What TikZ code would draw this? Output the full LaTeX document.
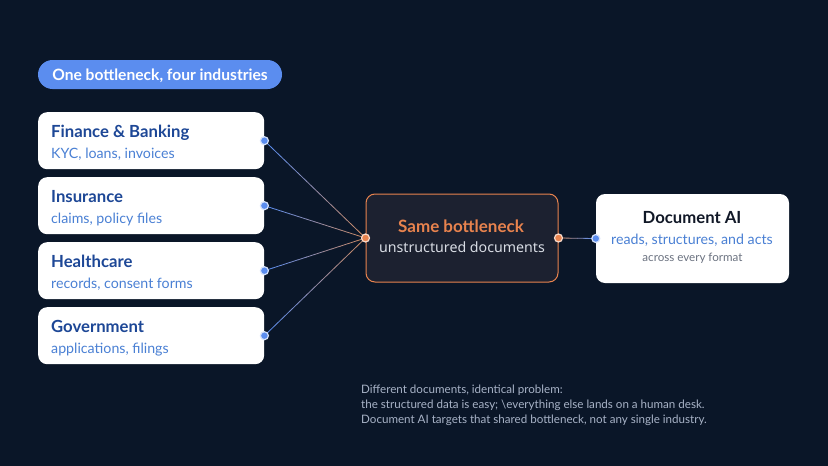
\documentclass[tikz,border=0pt]{standalone}
\usepackage{fontspec}
\setmainfont{Lato}
\newfontfamily\notosans{Noto Sans}
\usetikzlibrary{calc}
\definecolor{bgnavy}{HTML}{0A1628}
\definecolor{pillblue}{HTML}{5B8DEF}
\definecolor{cardnavy}{HTML}{1D4796}
\definecolor{cardblue}{HTML}{4A80D4}
\definecolor{midfill}{HTML}{1C2130}
\definecolor{midorange}{HTML}{E8834E}
\definecolor{midgray}{HTML}{D8DCE4}
\definecolor{docink}{HTML}{111827}
\definecolor{docgray}{HTML}{6B7280}
\definecolor{notegray}{HTML}{A8B3C7}
\definecolor{linkblue}{HTML}{5B8DEF}
\definecolor{linkorange}{HTML}{C98A66}
\begin{document}
\begin{tikzpicture}[x=1pt, y=-1pt,
    card/.style={fill=white, rounded corners=9pt, minimum width=226pt,
      minimum height=57pt, anchor=north west, inner sep=0pt},
    cardtitle/.style={anchor=base west, inner sep=0pt, text=cardnavy,
      font=\fontsize{16.7}{20}\selectfont\bfseries},
    cardsub/.style={anchor=base west, inner sep=0pt, text=cardblue,
      font=\fontsize{14.2}{17}\selectfont},
    link/.style={line width=0.8pt, line cap=round},
    bluedot/.style={circle, fill=pillblue, draw=white!75!pillblue,
      line width=1.2pt, minimum size=8pt, inner sep=0pt},
    orangedot/.style={circle, fill=midorange, draw=white!70!midorange,
      line width=1.2pt, minimum size=8pt, inner sep=0pt}]

  % Background
  \fill [bgnavy] (0, 0) rectangle (828, 466);
  \useasboundingbox (0, 0) rectangle (828, 466);

  % Heading pill
  \node [fill=pillblue, rounded corners=14.5pt, minimum width=244pt,
    minimum height=29pt, inner sep=0pt] (pill) at (160, 74.5) {};
  \node [anchor=base, inner sep=0pt, text=white,
    font=\fontsize{15.6}{18}\selectfont\bfseries] (pilltext) at (160, 80)
    {One bottleneck, four industries};

  % Industry cards
  \foreach \i/\ttl/\sub in {
    1/Finance \& Banking/{KYC, loans, invoices},
    2/Insurance/{claims, policy files},
    3/Healthcare/{records, consent forms},
    4/Government/{applications, filings}
  } {
    \pgfmathsetmacro\cardy{112 + 65 * (\i - 1)}
    \node [card] (card\i) at (38, \cardy) {};
    \node [cardtitle] (title\i) at (51, \cardy + 25.5) {\ttl};
    \node [cardsub] (sub\i) at (51, \cardy + 46.5) {\sub};
  }

  % Shared bottleneck
  \node [fill=midfill, draw=midorange, line width=1pt, rounded corners=9pt,
    minimum width=192pt, minimum height=88pt, inner sep=0pt] (same) at (462, 238) {};
  \node [anchor=base, inner sep=0pt, text=midorange,
    font=\fontsize{17}{20}\selectfont\bfseries] (sametitle) at (461, 232)
    {Same bottleneck};
  \node [anchor=base, inner sep=0pt, text=midgray,
    font=\notosans\fontsize{14.2}{17}\selectfont] (samesub) at (462, 252)
    {unstructured documents};

  % Document AI
  \node [fill=white, rounded corners=9pt, minimum width=193pt,
    minimum height=89pt, inner sep=0pt] (docai) at (692.5, 238.5) {};
  \node [anchor=base, inner sep=0pt, text=docink,
    font=\fontsize{16.7}{20}\selectfont\bfseries] (doctitle) at (692, 223)
    {Document AI};
  \node [anchor=base, inner sep=0pt, text=cardblue,
    font=\fontsize{14.2}{17}\selectfont] (docsub) at (692, 244)
    {reads, structures, and acts};
  \node [anchor=base, inner sep=0pt, text=docgray,
    font=\fontsize{11.6}{14}\selectfont] (docnote) at (692.5, 261)
    {across every format};

  % Connectors, blue fading into orange
  \foreach \i in {1, ..., 4} {
    \foreach \k in {0, ..., 11} {
      \pgfmathsetmacro\c{100 - \k * 100 / 11}
      \pgfmathsetmacro\pa{\k / 12}
      \pgfmathsetmacro\pb{(\k + 1) / 12}
      \draw [link, linkblue!\c!linkorange]
        ($(card\i.east)!\pa!(same.west)$) -- ($(card\i.east)!\pb!(same.west)$);
    }
  }
  \foreach \k in {0, ..., 5} {
    \pgfmathsetmacro\c{\k * 100 / 5}
    \pgfmathsetmacro\pa{\k / 6}
    \pgfmathsetmacro\pb{(\k + 1) / 6}
    \draw [link, linkblue!\c!linkorange]
      ($(same.east)!\pa!(docai.west)$) -- ($(same.east)!\pb!(docai.west)$);
  }

  % Ports
  \foreach \i in {1, ..., 4}
    \node [bluedot] (port\i) at (card\i.east) {};
  \node [orangedot] (samein) at (same.west) {};
  \node [orangedot] (sameout) at (same.east) {};
  \node [bluedot] (docin) at (docai.west) {};

  % Footnote
  \node [anchor=north west, inner sep=0pt, align=left, text=notegray,
    font=\fontsize{11.6}{15}\selectfont] (note) at (361, 385)
    {Different documents, identical problem:\\
     the structured data is easy; \textbackslash everything else lands on a human desk.\\
     Document AI targets that shared bottleneck, not any single industry.};

\end{tikzpicture}
\end{document}
